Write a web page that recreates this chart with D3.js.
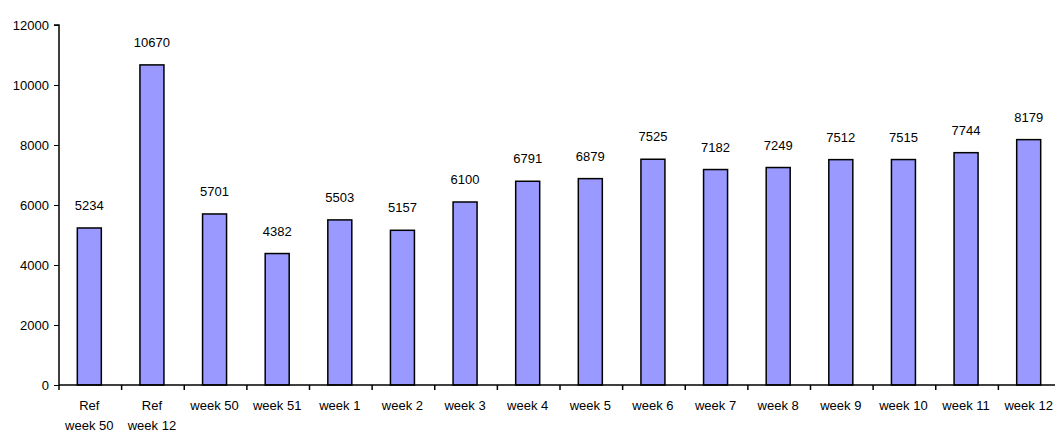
<!DOCTYPE html>
<html>
<head>
<meta charset="utf-8">
<script src="https://cdn.jsdelivr.net/npm/d3@7"></script>
<style>
	body { margin: 0; background: #fff; }
	svg { display: block; font-family: "Liberation Sans", Arial, sans-serif; }
</style>
</head>
<body>
<div id="root"></div>
<script>
// data
const categories = [
	['Ref', 'week 50'], ['Ref', 'week 12'], ['week 50'], ['week 51'],
	['week 1'], ['week 2'], ['week 3'], ['week 4'], ['week 5'], ['week 6'],
	['week 7'], ['week 8'], ['week 9'], ['week 10'], ['week 11'], ['week 12']
]
const values = [5234, 10670, 5701, 4382, 5503, 5157, 6100, 6791, 6879, 7525,
	7182, 7249, 7512, 7515, 7744, 8179]
const yTicks = [0, 2000, 4000, 6000, 8000, 10000, 12000]

const C = {
	width: 1055,
	height: 432,
	left: 59,
	right: 1061,
	top: 25,
	bottom: 385,
	barWidth: 24,
	fill: '#9999ff',
	font: '13px'
}

const svg = d3.select('#root').append('svg')
	.attr('width', C.width)
	.attr('height', C.height)

const idx = d3.range(values.length)

const x = d3.scaleBand()
	.domain(idx)
	.range([C.left, C.right])

const y = d3.scaleLinear()
	.domain([0, 12000])
	.range([C.bottom, C.top])

// bars
svg.selectAll('.bar')
	.data(idx)
	.enter()
	.append('rect')
	.attr('class', 'bar')
	.attr('x', i => x(i) + x.bandwidth() / 2 - C.barWidth / 2 - 1)
	.attr('y', i => y(values[i]))
	.attr('width', C.barWidth)
	.attr('height', i => y(0) - y(values[i]))
	.attr('fill', C.fill)
	.attr('stroke', '#000')
	.attr('stroke-width', 1.5)

// value labels
svg.selectAll('.val')
	.data(idx)
	.enter()
	.append('text')
	.attr('class', 'val')
	.attr('x', i => x(i) + x.bandwidth() / 2 - 1)
	.attr('y', i => y(values[i]) - 18)
	.attr('text-anchor', 'middle')
	.attr('font-size', C.font)
	.attr('fill', '#000')
	.text(i => values[i])

// y axis
const axisY = d3.axisLeft(y)
	.tickValues(yTicks)
	.tickSize(5)
	.tickPadding(5)
	.tickFormat(d3.format('d'))

const gy = svg.append('g')
	.attr('transform', `translate(${C.left},0)`)
	.call(axisY)
gy.select('.domain').attr('stroke-width', 1.5).attr('d', `M-5,${C.top}H0V${C.bottom}`)
gy.selectAll('text').attr('font-size', C.font).attr('font-family', null)

// x axis
const axisX = d3.axisBottom(x)
	.tickSize(0)
	.tickFormat('')

const gx = svg.append('g')
	.attr('transform', `translate(0,${C.bottom})`)
	.call(axisX)
gx.select('.domain').attr('stroke-width', 1.5).attr('d', `M${C.left},0H${C.right}`)

// tick marks between categories
gx.selectAll('.sep')
	.data(idx)
	.enter()
	.append('line')
	.attr('class', 'sep')
	.attr('x1', i => x(i))
	.attr('x2', i => x(i))
	.attr('y1', 0)
	.attr('y2', 5)
	.attr('stroke', '#000')
	.attr('stroke-width', 1.5)

// category labels, possibly two lines
const lab = svg.selectAll('.cat')
	.data(idx)
	.enter()
	.append('text')
	.attr('class', 'cat')
	.attr('text-anchor', 'middle')
	.attr('font-size', C.font)
	.attr('fill', '#000')

lab.selectAll('tspan')
	.data(i => categories[i].map(t => ({ i, t })))
	.enter()
	.append('tspan')
	.attr('x', d => x(d.i) + x.bandwidth() / 2 - 1)
	.attr('y', (d, k) => C.bottom + 25 + k * 20)
	.text(d => d.t)
</script>
</body>
</html>
